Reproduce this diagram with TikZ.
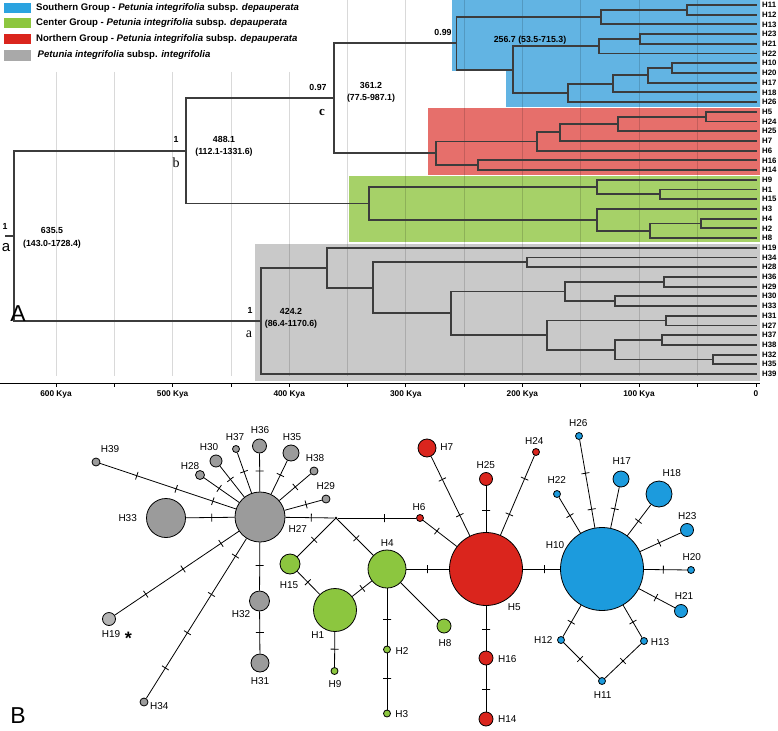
\documentclass[tikz,border=0pt]{standalone}
\usepackage{fontspec}
\setmainfont{Liberation Sans}
\newfontfamily\serifF{Liberation Serif}
\usetikzlibrary{calc}
\definecolor{treeline}{HTML}{3C3C3C}
\definecolor{boxblue}{HTML}{62B4E3}
\definecolor{boxred}{HTML}{E66F6B}
\definecolor{boxgreen}{HTML}{A6D168}
\definecolor{boxgray}{HTML}{C9C9C9}
\definecolor{hapgray}{HTML}{9B9B9B}
\definecolor{haplgray}{HTML}{B4B4B4}
\definecolor{hapred}{HTML}{DA251D}
\definecolor{hapgreen}{HTML}{8CC63F}
\definecolor{hapblue}{HTML}{1C9BDD}
\definecolor{legblue}{HTML}{2BA3E0}
\definecolor{leggreen}{HTML}{8DC63F}
\definecolor{legred}{HTML}{DA251D}
\definecolor{leggray}{HTML}{A9A9A9}
\newcommand\myfs[1]{\fontsize{#1}{#1}\selectfont}
\newcommand\mkhap[5]{\node[hap, fill=#5, minimum size=#4pt] (#1) at (#2,#3) {};}
\begin{document}
\begin{tikzpicture}[x=1pt,y=-1pt,
  tl/.style={draw=treeline, line width=1.8pt},
  tip/.style={anchor=west, inner ysep=0pt, inner xsep=5pt, font=\bfseries\myfs{7.8}},
  nl/.style={font=\bfseries\myfs{8.8}, inner sep=0pt},
  hap/.style={circle, draw=black, line width=0.8pt, inner sep=0pt},
  hl/.style={font=\myfs{10}, inner sep=0pt},
  ed/.style={draw=black, line width=0.8pt},
  tk/.style={sloped, draw=black, line width=0.8pt, shape=rectangle, inner sep=0pt, minimum width=0pt, minimum height=8pt, line join=bevel},
  grid/.style={draw=black, opacity=0.15, line width=0.7pt},
  leg/.style={anchor=west, inner sep=0pt, font=\bfseries\myfs{9.6}}]
\useasboundingbox (0,0) rectangle (778,730);
\fill[white] (0,0) rectangle (778,730);

% ---------------- coloured boxes ----------------
\fill[boxblue] (452,0) -- (760,0) -- (760,107) -- (506,107) -- (506,71) -- (452,71) -- cycle;
\fill[boxred] (428,108) rectangle (760,175);
\fill[boxgreen] (349,176) rectangle (760,242);
\fill[boxgray] (255,243.5) rectangle (760,381);

% ---------------- grid ----------------
\foreach \gx in {56,114.3,172.6,230.9,289.2}{\draw[grid] (\gx,72) -- (\gx,376);}
\foreach \gx in {347.5,405.8,464.1,522.4,580.7,639,697.3}{\draw[grid] (\gx,0) -- (\gx,376);}

% ---------------- legend ----------------
\fill[legblue] (4,3) rectangle (31,12.7);
\fill[leggreen] (4,18) rectangle (31,28.3);
\fill[legred] (4,34.3) rectangle (31,44.3);
\fill[leggray] (4,50) rectangle (31,60.7);
\node[leg] (lg1) at (36,8) {Southern Group - \textit{Petunia integrifolia} subsp. \textit{depauperata}};
\node[leg] (lg2) at (36,23.2) {Center Group - \textit{Petunia integrifolia} subsp. \textit{depauperata}};
\node[leg] (lg3) at (36,39.3) {Northern Group - \textit{Petunia integrifolia} subsp. \textit{depauperata}};
\node[leg] (lg4) at (37.5,55.3) {\textit{Petunia integrifolia} subsp. \textit{integrifolia}};

% ---------------- tip labels ----------------
\foreach \lab/\yy in {H11/5.0,H12/14.7,H13/24.4,H23/34.1,H21/43.8,H22/53.6,H10/63.3,H20/73.0,H17/82.7,H18/92.4,H26/102.1,
  H5/111.8,H24/121.5,H25/131.2,H7/140.9,H6/150.7,H16/160.4,H14/170.1,
  H9/179.8,H1/189.5,H15/199.2,H3/208.9,H4/218.6,H2/228.3,H8/238.0,
  H19/247.8,H34/257.5,H28/267.2,H36/276.9,H29/286.6,H30/296.3,H33/306.0,H31/315.7,H27/325.4,H37/335.1,H38/344.9,H32/354.6,H35/364.3,H39/374.0}
  {\node[tip] (t\lab) at (757,\yy) {\lab};}

% ---------------- internal nodes ----------------
\coordinate (b1112) at (687,9.85);
\coordinate (bA) at (601,17.1);
\coordinate (b2321) at (640,38.95);
\coordinate (bB) at (599,46.3);
\coordinate (b1020) at (672,68.15);
\coordinate (b17) at (648,75.4);
\coordinate (b18) at (613,83.9);
\coordinate (bC) at (568,93.0);
\coordinate (bBC) at (513,69.65);
\coordinate (bN) at (456.5,43.4);
\coordinate (r524) at (706,116.65);
\coordinate (r25) at (618,123.9);
\coordinate (r7) at (560,132.4);
\coordinate (rTop) at (537,141.55);
\coordinate (r1614) at (478,165.25);
\coordinate (rN) at (436,153.4);
\coordinate (nc) at (334,98.4);
\coordinate (g1) at (660,194.35);
\coordinate (gTop) at (597,187.1);
\coordinate (g42) at (701,223.45);
\coordinate (g8) at (650,230.7);
\coordinate (gBot) at (597,219.8);
\coordinate (gN) at (369,203.45);
\coordinate (nb) at (186,150.9);
\coordinate (y3436) at (527,262.35);
\coordinate (y3629) at (664,281.75);
\coordinate (y3033) at (615,301.15);
\coordinate (yW) at (565,291.45);
\coordinate (y3127) at (666,320.55);
\coordinate (y3738) at (662,340);
\coordinate (y3235) at (713,359.45);
\coordinate (yU) at (615,349.7);
\coordinate (yV) at (547,335.1);
\coordinate (yZ) at (451,313.3);
\coordinate (yY) at (373,287.8);
\coordinate (yX) at (327,267.8);
\coordinate (gr) at (261,320.9);
\coordinate (root) at (14,235.9);
\coordinate (rstub) at (5,235.9);

% ---------------- tree branches ----------------
\foreach \p/\c in {b1112/tH11.west,b1112/tH12.west,bA/b1112,bA/tH13.west,b2321/tH23.west,b2321/tH21.west,bB/b2321,bB/tH22.west,
  b1020/tH10.west,b1020/tH20.west,b17/b1020,b17/tH17.west,b18/b17,b18/tH18.west,bC/b18,bC/tH26.west,bBC/bB,bBC/bC,bN/bA,bN/bBC,
  r524/tH5.west,r524/tH24.west,r25/r524,r25/tH25.west,r7/r25,r7/tH7.west,rTop/r7,rTop/tH6.west,r1614/tH16.west,r1614/tH14.west,rN/rTop,rN/r1614,
  nc/bN,nc/rN,
  g1/tH1.west,g1/tH15.west,gTop/tH9.west,gTop/g1,g42/tH4.west,g42/tH2.west,g8/g42,g8/tH8.west,gBot/tH3.west,gBot/g8,gN/gTop,gN/gBot,
  nb/nc,nb/gN,
  y3436/tH34.west,y3436/tH28.west,y3629/tH36.west,y3629/tH29.west,y3033/tH30.west,y3033/tH33.west,yW/y3629,yW/y3033,
  y3127/tH31.west,y3127/tH27.west,y3738/tH37.west,y3738/tH38.west,y3235/tH32.west,y3235/tH35.west,yU/y3738,yU/y3235,
  yV/y3127,yV/yU,yZ/yW,yZ/yV,yY/y3436,yY/yZ,yX/tH19.west,yX/yY,gr/yX,gr/tH39.west,root/nb,root/gr}
  {\draw[tl] (\p) |- (\c);}
\draw[tl] (rstub) -- (root);

% ---------------- node annotations ----------------
\node[nl] (pa) at (5,226) {1};
\node[inner sep=0pt, font=\myfs{15}] (la) at (6,248) {a};
\node[nl] (aa) at (52,230) {635.5};
\node[nl] (ia) at (52,244) {(143.0-1728.4)};
\node[nl] (pb) at (176,139) {1};
\node[inner sep=0pt, font=\serifF\myfs{14}] (lb) at (176,163) {b};
\node[nl] (ab) at (224,139) {488.1};
\node[nl] (ib) at (224,152) {(112.1-1331.6)};
\node[nl] (pc) at (318,87) {0.97};
\node[inner sep=0pt, font=\serifF\bfseries\myfs{13}] (lc) at (322,112) {c};
\node[nl] (ac) at (371,85) {361.2};
\node[nl] (ic) at (371,98) {(77.5-987.1)};
\node[nl] (pd) at (443,32) {0.99};
\node[nl] (ad) at (530,40) {256.7 (53.5-715.3)};
\node[nl] (pg) at (250,310) {1};
\node[inner sep=0pt, font=\serifF\myfs{14}] (lg) at (249,334) {a};
\node[nl] (ag) at (291,311) {424.2};
\node[nl] (ig) at (291,324) {(86.4-1170.6)};

% ---------------- axis ----------------
\coordinate (ax0) at (0,383);
\coordinate (ax1) at (760,383);
\draw[black, line width=1pt] (ax0) -- (ax1);
\foreach \gx in {56,114.3,172.6,230.9,289.2,347.5,405.8,464.1,522.4,580.7,639,697.3,756}{\draw[black, line width=0.8pt] (\gx,383) -- (\gx,386.5);}
\foreach \gx/\t in {56/600,172.6/500,289.2/400,405.8/300,522.4/200,639/100}
  {\node[inner sep=0pt, font=\bfseries\myfs{8.3}] at (\gx,394) {\t\ Kya};}
\node[inner sep=0pt, font=\bfseries\myfs{8.3}] (ax00) at (756,394) {0};

\node[inner sep=0pt, font=\myfs{23}] (pA) at (18,314) {A};
\node[inner sep=0pt, font=\myfs{23}] (pB) at (18,716) {B};

% ---------------- haplotype network ----------------
\mkhap{H27}{260}{517}{50}{hapgray}
\mkhap{H33}{166}{518}{39}{hapgray}
\mkhap{H39}{96}{462}{8}{hapgray}
\mkhap{H28}{200}{475}{9}{hapgray}
\mkhap{H30}{216}{461}{12}{hapgray}
\mkhap{H37}{236}{449}{7}{hapgray}
\mkhap{H36}{259.5}{446}{14}{hapgray}
\mkhap{H35}{291}{453}{16}{hapgray}
\mkhap{H38}{314}{471}{8}{hapgray}
\mkhap{H29}{326}{499}{8}{hapgray}
\mkhap{H19}{109}{619}{13}{haplgray}
\mkhap{H34}{144}{702}{8}{hapgray}
\mkhap{H32}{259.5}{601}{20}{hapgray}
\mkhap{H31}{260}{663}{18}{hapgray}
\node[circle, fill=black, inner sep=0pt, minimum size=3pt] (J) at (336,518) {};
\mkhap{H15}{290}{564}{20}{hapgreen}
\mkhap{H1}{335}{610}{43}{hapgreen}
\mkhap{H9}{334.5}{671}{7}{hapgreen}
\mkhap{H4}{387}{569}{38}{hapgreen}
\mkhap{H2}{387}{649.5}{7}{hapgreen}
\mkhap{H3}{387}{713.5}{7}{hapgreen}
\mkhap{H8}{444}{626}{14}{hapgreen}
\mkhap{H6}{420}{518}{7}{hapred}
\mkhap{H5}{486}{569}{73}{hapred}
\mkhap{H7}{427}{448}{18}{hapred}
\mkhap{H25}{486}{479}{13}{hapred}
\mkhap{H24}{536}{452}{7}{hapred}
\mkhap{H16}{486}{658}{14}{hapred}
\mkhap{H14}{486}{719}{14}{hapred}
\mkhap{H10}{602}{569}{83}{hapblue}
\mkhap{H26}{579}{436}{7}{hapblue}
\mkhap{H22}{557}{494}{7}{hapblue}
\mkhap{H17}{621}{479}{16}{hapblue}
\mkhap{H18}{659}{494}{26}{hapblue}
\mkhap{H23}{687}{530}{13}{hapblue}
\mkhap{H20}{691}{570}{7}{hapblue}
\mkhap{H21}{681}{611}{13}{hapblue}
\mkhap{H12}{561}{640}{7}{hapblue}
\mkhap{H13}{644}{641}{7}{hapblue}
\mkhap{H11}{602}{681}{7}{hapblue}

% edges with mutation ticks
\draw[ed] (H27) -- node[tk,pos=.47]{} (H33);
\draw[ed] (H27) -- node[tk,pos=.17]{} node[tk,pos=.44]{} node[tk,pos=.73]{} (H39);
\draw[ed] (H27) -- node[tk,pos=.57]{} (H28);
\draw[ed] (H27) -- node[tk,pos=.57]{} (H30);
\draw[ed] (H27) -- node[tk,pos=.53]{} (H37);
\draw[ed] (H27) -- node[tk,pos=.54]{} (H36);
\draw[ed] (H27) -- node[tk,pos=.57]{} (H35);
\draw[ed] (H27) -- node[tk,pos=.51]{} (H38);
\draw[ed] (H27) -- node[tk,pos=.58]{} (H29);
\draw[ed] (H27) -- node[tk,pos=.53]{} (J);
\draw[ed] (H27) -- node[tk,pos=.48]{} (H32);
\draw[ed] (H32) -- node[tk,pos=.5]{} (H31);
\draw[ed] (H27) -- node[tk,pos=.145]{} node[tk,pos=.45]{} node[tk,pos=.75]{} (H19);
\draw[ed] (H27) -- node[tk,pos=.11]{} node[tk,pos=.35]{} node[tk,pos=.59]{} node[tk,pos=.81]{} (H34);
\draw[ed] (J) -- node[tk,pos=.55]{} (H15);
\draw[ed] (J) -- node[tk,pos=.53]{} (H4);
\draw[ed] (J) -- node[tk,pos=.59]{} (H6);
\draw[ed] (H15) -- node[tk,pos=.47]{} (H1);
\draw[ed] (H1) -- node[tk,pos=.52]{} (H4);
\draw[ed] (H1) -- node[tk,pos=.49]{} (H9);
\draw[ed] (H4) -- node[tk,pos=.55]{} (H2);
\draw[ed] (H2) -- node[tk,pos=.44]{} (H3);
\draw[ed] (H4) -- (H8);
\draw[ed] (H4) -- node[tk,pos=.48]{} (H5);
\draw[ed] (H6) -- node[tk,pos=.41]{} (H5);
\draw[ed] (H5) -- node[tk,pos=.26]{} node[tk,pos=.71]{} (H7);
\draw[ed] (H5) -- node[tk,pos=.48]{} (H25);
\draw[ed] (H5) -- node[tk,pos=.26]{} node[tk,pos=.71]{} (H24);
\draw[ed] (H5) -- node[tk,pos=.52]{} (H16);
\draw[ed] (H16) -- node[tk,pos=.51]{} (H14);
\draw[ed] (H5) -- node[tk,pos=.57]{} (H10);
\draw[ed] (H10) -- node[tk,pos=.21]{} node[tk,pos=.62]{} (H26);
\draw[ed] (H10) -- node[tk,pos=.49]{} (H22);
\draw[ed] (H10) -- node[tk,pos=.47]{} (H17);
\draw[ed] (H10) -- node[tk,pos=.47]{} (H18);
\draw[ed] (H10) -- node[tk,pos=.47]{} (H23);
\draw[ed] (H10) -- node[tk,pos=.45]{} (H20);
\draw[ed] (H10) -- node[tk,pos=.47]{} (H21);
\draw[ed] (H10) -- node[tk,pos=.54]{} (H12);
\draw[ed] (H10) -- node[tk,pos=.52]{} (H13);
\draw[ed] (H12) -- node[tk,pos=.46]{} (H11);
\draw[ed] (H13) -- node[tk,pos=.5]{} (H11);

% haplotype labels
\node[hl] (lH39) at (110,449) {H39};
\node[hl] (lH28) at (190,466) {H28};
\node[hl] (lH30) at (209,447) {H30};
\node[hl] (lH37) at (235,437) {H37};
\node[hl] (lH36) at (260,430) {H36};
\node[hl] (lH35) at (292,437) {H35};
\node[hl] (lH38) at (315,458) {H38};
\node[hl] (lH29) at (325.7,486) {H29};
\node[hl] (lH33) at (127.7,517.7) {H33};
\node[hl] (lH27) at (297.7,529) {H27};
\node[hl] (lH19) at (111,634) {H19};
\node[inner sep=0pt, font=\bfseries\myfs{18}] (ast) at (128.5,638.5) {*};
\node[hl] (lH34) at (159.3,705.7) {H34};
\node[hl] (lH32) at (241,614) {H32};
\node[hl] (lH31) at (260,680.7) {H31};
\node[hl] (lH15) at (289,585) {H15};
\node[hl] (lH1) at (317.7,635) {H1};
\node[hl] (lH9) at (335,684) {H9};
\node[hl] (lH4) at (387.3,542.7) {H4};
\node[hl] (lH2) at (402,650.7) {H2};
\node[hl] (lH3) at (401.7,714) {H3};
\node[hl] (lH8) at (445,642.7) {H8};
\node[hl] (lH6) at (419,506.7) {H6};
\node[hl] (lH5) at (514.3,607.3) {H5};
\node[hl] (lH7) at (446.7,447.3) {H7};
\node[hl] (lH25) at (485.7,465) {H25};
\node[hl] (lH24) at (534.3,440.7) {H24};
\node[hl] (lH16) at (507.3,659.3) {H16};
\node[hl] (lH14) at (507.3,719.3) {H14};
\node[hl] (lH10) at (555,545) {H10};
\node[hl] (lH26) at (578.3,423.3) {H26};
\node[hl] (lH22) at (556.7,480) {H22};
\node[hl] (lH17) at (621.7,460.7) {H17};
\node[hl] (lH18) at (671.7,472.7) {H18};
\node[hl] (lH23) at (687.3,515.7) {H23};
\node[hl] (lH20) at (691.7,557.3) {H20};
\node[hl] (lH21) at (684,596) {H21};
\node[hl] (lH12) at (543.3,640) {H12};
\node[hl] (lH13) at (660,642) {H13};
\node[hl] (lH11) at (602.7,695) {H11};
\end{tikzpicture}
\end{document}
